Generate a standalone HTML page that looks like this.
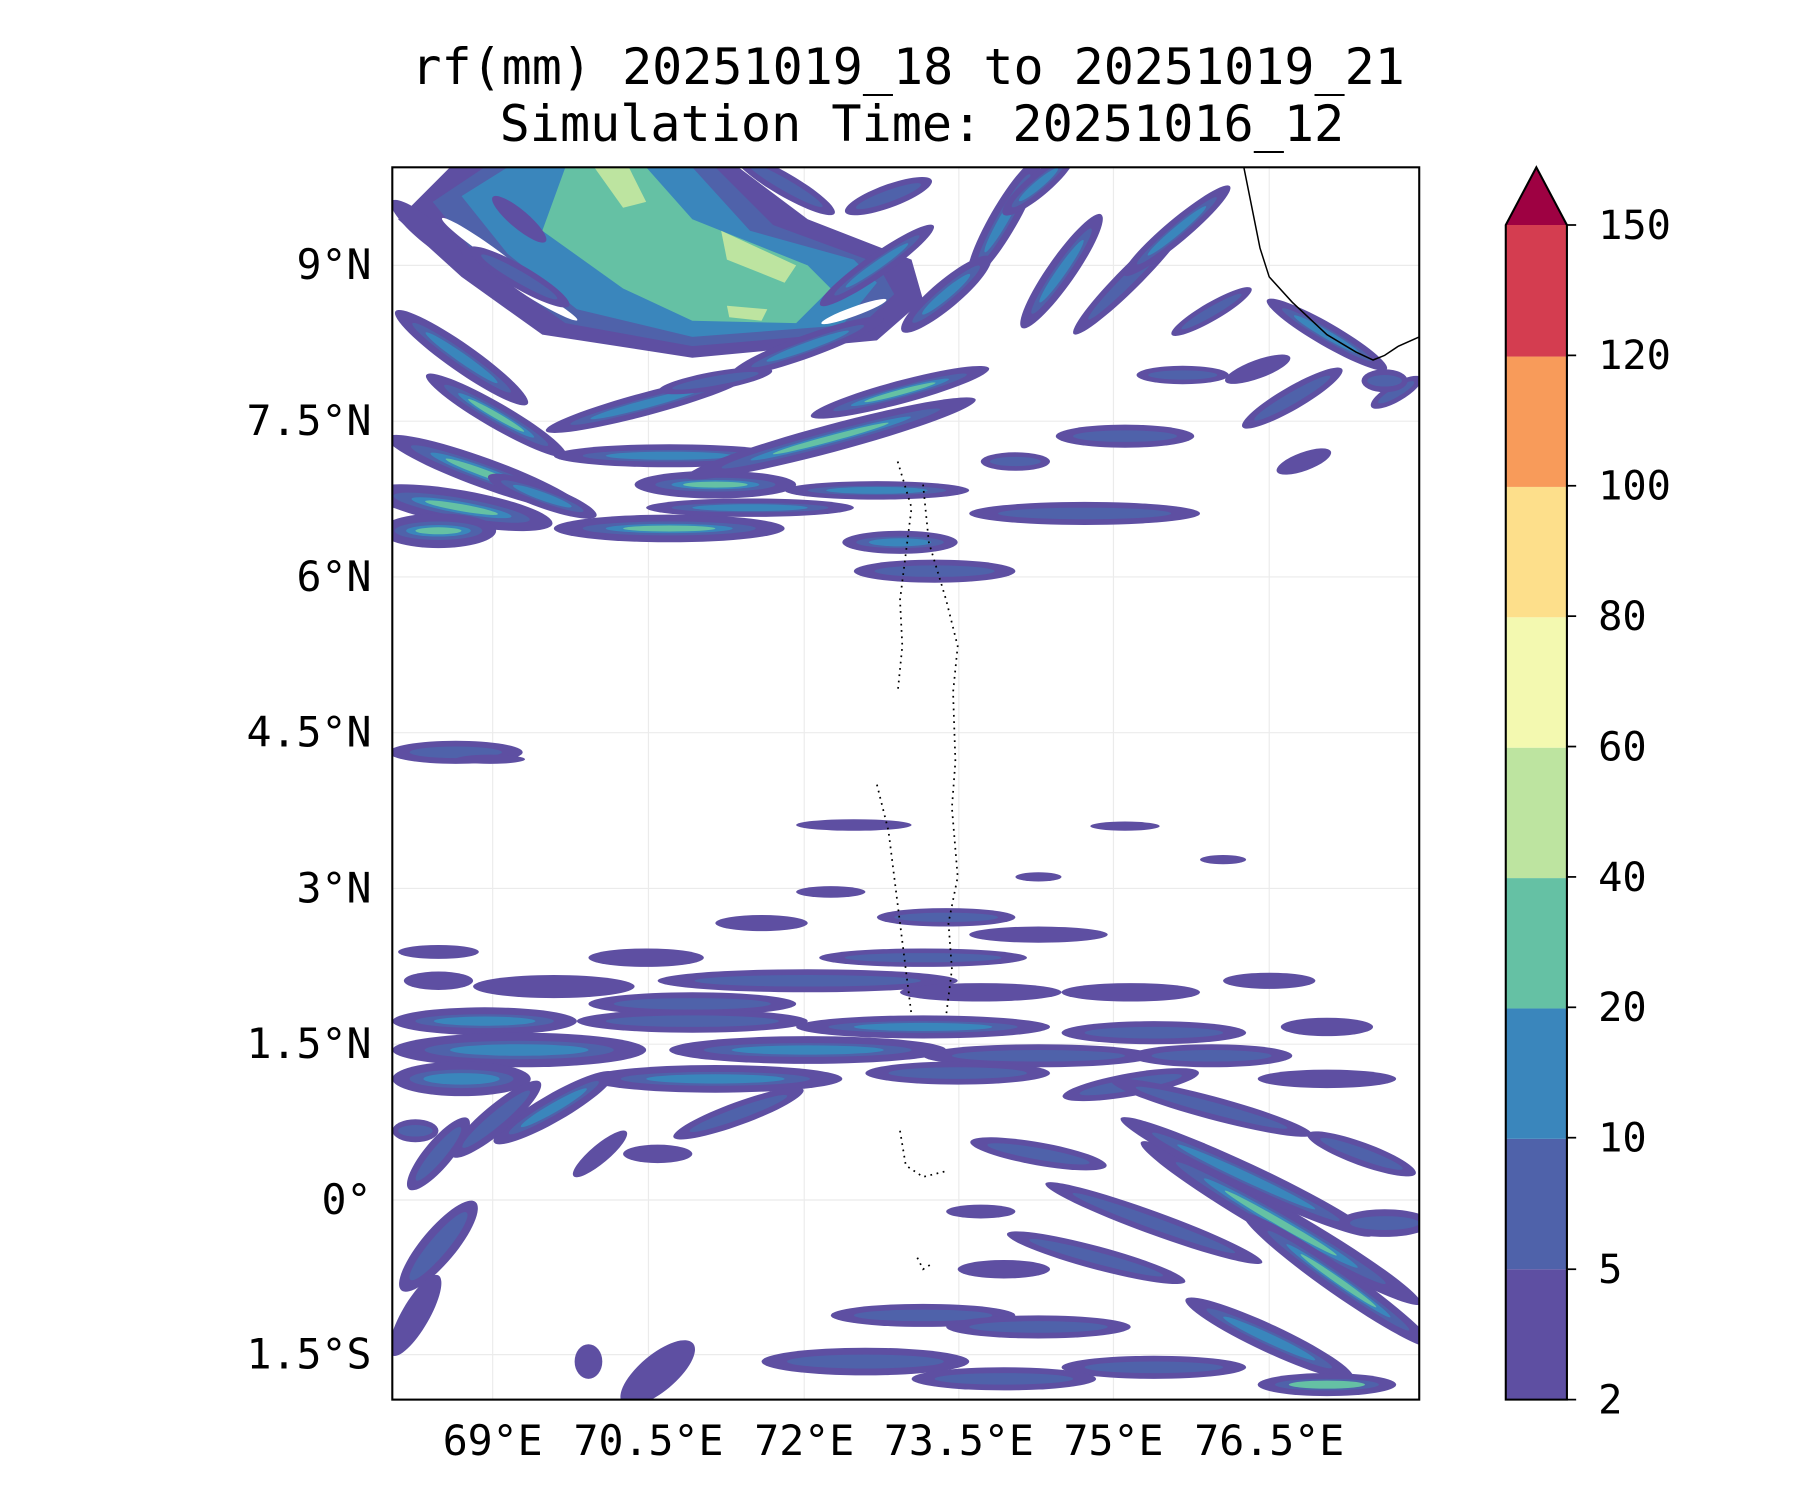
<!DOCTYPE html>
<html><head><meta charset="utf-8"><style>html,body{margin:0;padding:0;background:#fff}svg{display:block}</style></head>
<body>
<svg width="1800" height="1500" viewBox="0 0 1560 1300" xmlns="http://www.w3.org/2000/svg" font-family="'DejaVu Sans Mono','Liberation Mono',monospace">
<defs><clipPath id="c"><rect x="340" y="145" width="890" height="1068"/></clipPath></defs>
<rect width="1560" height="1300" fill="#fff"/>
<text x="787" y="73" font-size="43" text-anchor="middle" textLength="861" lengthAdjust="spacingAndGlyphs">rf(mm) 20251019_18 to 20251019_21</text>
<text x="799" y="122" font-size="43" text-anchor="middle" textLength="732" lengthAdjust="spacingAndGlyphs">Simulation Time: 20251016_12</text>
<g stroke="#ebebeb" stroke-width="1">
<line x1="427" y1="145" x2="427" y2="1213"/><line x1="562" y1="145" x2="562" y2="1213"/><line x1="697" y1="145" x2="697" y2="1213"/><line x1="831" y1="145" x2="831" y2="1213"/><line x1="965" y1="145" x2="965" y2="1213"/><line x1="1100" y1="145" x2="1100" y2="1213"/>
<line x1="340" y1="230" x2="1230" y2="230"/><line x1="340" y1="365" x2="1230" y2="365"/><line x1="340" y1="500" x2="1230" y2="500"/><line x1="340" y1="635" x2="1230" y2="635"/><line x1="340" y1="770" x2="1230" y2="770"/><line x1="340" y1="905" x2="1230" y2="905"/><line x1="340" y1="1040" x2="1230" y2="1040"/><line x1="340" y1="1174" x2="1230" y2="1174"/>
</g>
<g clip-path="url(#c)">
<polygon fill="#5e4fa2" points="390,145 640,145 700,190 790,225 800,260 760,295 600,310 470,290 400,240 345,190"/>
<polygon fill="#4f62aa" points="420,145 620,145 670,195 760,228 775,255 740,288 600,300 490,280 420,230 375,175"/>
<polygon fill="#3a86bc" points="440,145 600,145 650,200 740,225 760,245 730,282 600,292 500,268 440,220 400,170"/>
<polygon fill="#65c1a4" points="490,145 560,145 600,190 700,230 720,250 690,280 600,278 540,250 470,200"/>
<polygon fill="#bde4a0" points="625,200 690,230 680,245 630,225"/>
<polygon fill="#bde4a0" points="515,145 545,145 560,175 540,180"/>
<polygon fill="#bde4a0" points="630,265 665,268 660,278 632,275"/>
<g fill="#fff">
<g transform="translate(420,215) rotate(35)"><ellipse rx="45" ry="5"/></g>
<g transform="translate(470,260) rotate(30)"><ellipse rx="35" ry="4"/></g>
<g transform="translate(700,165) rotate(30)"><ellipse rx="30" ry="5"/></g>
<g transform="translate(740,270) rotate(-20)"><ellipse rx="30" ry="4"/></g>
</g>
<g>
<g transform="translate(370,200) rotate(40)"><ellipse rx="40" ry="10" fill="#5e4fa2"/></g>
<g transform="translate(450,240) rotate(30)"><ellipse rx="50" ry="10" fill="#5e4fa2"/><ellipse rx="38" ry="5" fill="#4f62aa"/></g>
<g transform="translate(400,310) rotate(35)"><ellipse rx="70" ry="12" fill="#5e4fa2"/><ellipse rx="52" ry="6" fill="#4f62aa"/><ellipse rx="38" ry="4" fill="#3a86bc"/></g>
<g transform="translate(430,360) rotate(30)"><ellipse rx="70" ry="11" fill="#5e4fa2"/><ellipse rx="52" ry="6" fill="#4f62aa"/><ellipse rx="38" ry="4" fill="#3a86bc"/><ellipse rx="28" ry="2.5" fill="#65c1a4"/></g>
<g transform="translate(420,410) rotate(20)"><ellipse rx="90" ry="13" fill="#5e4fa2"/><ellipse rx="68" ry="7" fill="#4f62aa"/><ellipse rx="50" ry="5" fill="#3a86bc"/><ellipse rx="36" ry="3" fill="#65c1a4"/></g>
<g transform="translate(400,440) rotate(10)"><ellipse rx="80" ry="15" fill="#5e4fa2"/><ellipse rx="60" ry="8" fill="#4f62aa"/><ellipse rx="44" ry="5" fill="#3a86bc"/><ellipse rx="32" ry="3" fill="#65c1a4"/></g>
<g transform="translate(380,460)"><ellipse rx="50" ry="15" fill="#5e4fa2"/><ellipse rx="38" ry="8" fill="#4f62aa"/><ellipse rx="28" ry="5" fill="#3a86bc"/><ellipse rx="20" ry="3" fill="#65c1a4"/></g>
<g transform="translate(470,430) rotate(20)"><ellipse rx="50" ry="10" fill="#5e4fa2"/><ellipse rx="38" ry="5" fill="#4f62aa"/><ellipse rx="27" ry="3.5" fill="#3a86bc"/></g>
<g transform="translate(560,350) rotate(-15)"><ellipse rx="90" ry="10" fill="#5e4fa2"/><ellipse rx="68" ry="5" fill="#4f62aa"/><ellipse rx="50" ry="3.5" fill="#3a86bc"/></g>
<g transform="translate(580,395)"><ellipse rx="100" ry="10" fill="#5e4fa2"/><ellipse rx="75" ry="5" fill="#4f62aa"/><ellipse rx="55" ry="3.5" fill="#3a86bc"/></g>
<g transform="translate(620,420)"><ellipse rx="70" ry="12" fill="#5e4fa2"/><ellipse rx="52" ry="6" fill="#4f62aa"/><ellipse rx="38" ry="4" fill="#3a86bc"/><ellipse rx="28" ry="2.6" fill="#65c1a4"/></g>
<g transform="translate(580,458)"><ellipse rx="100" ry="12" fill="#5e4fa2"/><ellipse rx="75" ry="6" fill="#4f62aa"/><ellipse rx="55" ry="4" fill="#3a86bc"/><ellipse rx="40" ry="2.6" fill="#65c1a4"/></g>
<g transform="translate(650,440)"><ellipse rx="90" ry="8" fill="#5e4fa2"/><ellipse rx="68" ry="4" fill="#4f62aa"/><ellipse rx="50" ry="3" fill="#3a86bc"/></g>
<g transform="translate(720,380) rotate(-15)"><ellipse rx="130" ry="12" fill="#5e4fa2"/><ellipse rx="98" ry="6" fill="#4f62aa"/><ellipse rx="72" ry="4" fill="#3a86bc"/><ellipse rx="52" ry="2.6" fill="#65c1a4"/></g>
<g transform="translate(780,340) rotate(-15)"><ellipse rx="80" ry="10" fill="#5e4fa2"/><ellipse rx="60" ry="5" fill="#4f62aa"/><ellipse rx="44" ry="3.5" fill="#3a86bc"/><ellipse rx="32" ry="2.2" fill="#65c1a4"/></g>
<g transform="translate(760,425)"><ellipse rx="80" ry="8" fill="#5e4fa2"/><ellipse rx="60" ry="4" fill="#4f62aa"/><ellipse rx="44" ry="3" fill="#3a86bc"/></g>
<g transform="translate(780,470)"><ellipse rx="50" ry="10" fill="#5e4fa2"/><ellipse rx="38" ry="5" fill="#4f62aa"/><ellipse rx="27" ry="3.5" fill="#3a86bc"/></g>
<g transform="translate(810,495)"><ellipse rx="70" ry="10" fill="#5e4fa2"/><ellipse rx="52" ry="5" fill="#4f62aa"/></g>
<g transform="translate(880,400)"><ellipse rx="30" ry="8" fill="#5e4fa2"/><ellipse rx="22" ry="4" fill="#4f62aa"/></g>
<g transform="translate(940,445)"><ellipse rx="100" ry="10" fill="#5e4fa2"/><ellipse rx="75" ry="5" fill="#4f62aa"/></g>
<g transform="translate(975,378)"><ellipse rx="60" ry="10" fill="#5e4fa2"/><ellipse rx="45" ry="5" fill="#4f62aa"/></g>
<g transform="translate(1025,325)"><ellipse rx="40" ry="8" fill="#5e4fa2"/><ellipse rx="30" ry="4" fill="#4f62aa"/></g>
<g transform="translate(1120,345) rotate(-30)"><ellipse rx="50" ry="10" fill="#5e4fa2"/><ellipse rx="38" ry="5" fill="#4f62aa"/></g>
<g transform="translate(1210,340) rotate(-30)"><ellipse rx="25" ry="8" fill="#5e4fa2"/><ellipse rx="18" ry="4" fill="#4f62aa"/></g>
<g transform="translate(1130,400) rotate(-20)"><ellipse rx="25" ry="8" fill="#5e4fa2"/></g>
<g transform="translate(700,300) rotate(-20)"><ellipse rx="70" ry="10" fill="#5e4fa2"/><ellipse rx="52" ry="5" fill="#4f62aa"/><ellipse rx="38" ry="3.5" fill="#3a86bc"/></g>
<g transform="translate(620,330) rotate(-10)"><ellipse rx="50" ry="8" fill="#5e4fa2"/><ellipse rx="38" ry="4" fill="#4f62aa"/></g>
<g transform="translate(870,190) rotate(-60)"><ellipse rx="60" ry="12" fill="#5e4fa2"/><ellipse rx="45" ry="6" fill="#4f62aa"/><ellipse rx="33" ry="4" fill="#3a86bc"/></g>
<g transform="translate(920,235) rotate(-55)"><ellipse rx="60" ry="12" fill="#5e4fa2"/><ellipse rx="45" ry="6" fill="#4f62aa"/><ellipse rx="33" ry="4" fill="#3a86bc"/></g>
<g transform="translate(980,240) rotate(-45)"><ellipse rx="70" ry="10" fill="#5e4fa2"/><ellipse rx="52" ry="5" fill="#4f62aa"/></g>
<g transform="translate(1020,200) rotate(-40)"><ellipse rx="60" ry="10" fill="#5e4fa2"/><ellipse rx="45" ry="5" fill="#4f62aa"/><ellipse rx="33" ry="3.5" fill="#3a86bc"/></g>
<g transform="translate(1050,270) rotate(-30)"><ellipse rx="40" ry="8" fill="#5e4fa2"/><ellipse rx="30" ry="4" fill="#4f62aa"/></g>
<g transform="translate(760,230) rotate(-35)"><ellipse rx="60" ry="10" fill="#5e4fa2"/><ellipse rx="45" ry="5" fill="#4f62aa"/><ellipse rx="33" ry="3.5" fill="#3a86bc"/></g>
<g transform="translate(820,255) rotate(-40)"><ellipse rx="50" ry="12" fill="#5e4fa2"/><ellipse rx="38" ry="6" fill="#4f62aa"/><ellipse rx="27" ry="4" fill="#3a86bc"/></g>
<g transform="translate(900,160) rotate(-40)"><ellipse rx="40" ry="10" fill="#5e4fa2"/><ellipse rx="30" ry="5" fill="#4f62aa"/><ellipse rx="22" ry="3.5" fill="#3a86bc"/></g>
<g transform="translate(680,160) rotate(30)"><ellipse rx="50" ry="10" fill="#5e4fa2"/><ellipse rx="38" ry="5" fill="#4f62aa"/></g>
<g transform="translate(770,170) rotate(-20)"><ellipse rx="40" ry="10" fill="#5e4fa2"/><ellipse rx="30" ry="5" fill="#4f62aa"/></g>
<g transform="translate(450,190) rotate(40)"><ellipse rx="30" ry="8" fill="#5e4fa2"/></g>
<g transform="translate(1150,290) rotate(30)"><ellipse rx="60" ry="10" fill="#5e4fa2"/><ellipse rx="45" ry="5" fill="#4f62aa"/><ellipse rx="33" ry="3.5" fill="#3a86bc"/></g>
<g transform="translate(1200,330)"><ellipse rx="20" ry="10" fill="#5e4fa2"/><ellipse rx="15" ry="5" fill="#4f62aa"/></g>
<g transform="translate(1090,320) rotate(-20)"><ellipse rx="30" ry="8" fill="#5e4fa2"/></g>
<g transform="translate(395,652)"><ellipse rx="58" ry="10" fill="#5e4fa2"/><ellipse rx="40" ry="5" fill="#4f62aa"/></g>
<g transform="translate(425,658)"><ellipse rx="30" ry="4" fill="#5e4fa2"/></g>

<g transform="translate(740,715)"><ellipse rx="50" ry="5" fill="#5e4fa2"/></g>
<g transform="translate(975,716)"><ellipse rx="30" ry="4" fill="#5e4fa2"/></g>
<g transform="translate(1060,745)"><ellipse rx="20" ry="4" fill="#5e4fa2"/></g>
<g transform="translate(720,773)"><ellipse rx="30" ry="5" fill="#5e4fa2"/></g>
<g transform="translate(900,760)"><ellipse rx="20" ry="4" fill="#5e4fa2"/></g>
<g transform="translate(820,795)"><ellipse rx="60" ry="8" fill="#5e4fa2"/><ellipse rx="45" ry="4" fill="#4f62aa"/></g>
<g transform="translate(900,810)"><ellipse rx="60" ry="7" fill="#5e4fa2"/></g>
<g transform="translate(800,830)"><ellipse rx="90" ry="8" fill="#5e4fa2"/><ellipse rx="68" ry="4" fill="#4f62aa"/></g>
<g transform="translate(660,800)"><ellipse rx="40" ry="7" fill="#5e4fa2"/></g>
<g transform="translate(560,830)"><ellipse rx="50" ry="8" fill="#5e4fa2"/></g>
<g transform="translate(380,825)"><ellipse rx="35" ry="6" fill="#5e4fa2"/></g>
<g transform="translate(700,850)"><ellipse rx="130" ry="10" fill="#5e4fa2"/><ellipse rx="98" ry="5" fill="#4f62aa"/></g>
<g transform="translate(480,855)"><ellipse rx="70" ry="10" fill="#5e4fa2"/></g>
<g transform="translate(380,850)"><ellipse rx="30" ry="8" fill="#5e4fa2"/></g>
<g transform="translate(600,870)"><ellipse rx="90" ry="10" fill="#5e4fa2"/><ellipse rx="68" ry="5" fill="#4f62aa"/></g>
<g transform="translate(850,860)"><ellipse rx="70" ry="8" fill="#5e4fa2"/></g>
<g transform="translate(980,860)"><ellipse rx="60" ry="8" fill="#5e4fa2"/></g>
<g transform="translate(1100,850)"><ellipse rx="40" ry="7" fill="#5e4fa2"/></g>
<g transform="translate(420,885)"><ellipse rx="80" ry="12" fill="#5e4fa2"/><ellipse rx="60" ry="6" fill="#4f62aa"/><ellipse rx="44" ry="4" fill="#3a86bc"/></g>
<g transform="translate(600,885)"><ellipse rx="100" ry="10" fill="#5e4fa2"/><ellipse rx="75" ry="5" fill="#4f62aa"/></g>
<g transform="translate(800,890)"><ellipse rx="110" ry="10" fill="#5e4fa2"/><ellipse rx="82" ry="5" fill="#4f62aa"/><ellipse rx="60" ry="3.5" fill="#3a86bc"/></g>
<g transform="translate(1000,895)"><ellipse rx="80" ry="10" fill="#5e4fa2"/><ellipse rx="60" ry="5" fill="#4f62aa"/></g>
<g transform="translate(1150,890)"><ellipse rx="40" ry="8" fill="#5e4fa2"/></g>
<g transform="translate(450,910)"><ellipse rx="110" ry="15" fill="#5e4fa2"/><ellipse rx="82" ry="8" fill="#4f62aa"/><ellipse rx="60" ry="5" fill="#3a86bc"/></g>
<g transform="translate(700,910)"><ellipse rx="120" ry="12" fill="#5e4fa2"/><ellipse rx="90" ry="6" fill="#4f62aa"/><ellipse rx="66" ry="4" fill="#3a86bc"/></g>
<g transform="translate(900,915)"><ellipse rx="100" ry="10" fill="#5e4fa2"/><ellipse rx="75" ry="5" fill="#4f62aa"/></g>
<g transform="translate(1050,915)"><ellipse rx="70" ry="10" fill="#5e4fa2"/><ellipse rx="52" ry="5" fill="#4f62aa"/></g>
<g transform="translate(400,935)"><ellipse rx="60" ry="15" fill="#5e4fa2"/><ellipse rx="45" ry="8" fill="#4f62aa"/><ellipse rx="33" ry="5" fill="#3a86bc"/></g>
<g transform="translate(620,935)"><ellipse rx="110" ry="12" fill="#5e4fa2"/><ellipse rx="82" ry="6" fill="#4f62aa"/><ellipse rx="60" ry="4" fill="#3a86bc"/></g>
<g transform="translate(830,930)"><ellipse rx="80" ry="10" fill="#5e4fa2"/><ellipse rx="60" ry="5" fill="#4f62aa"/></g>
<g transform="translate(980,940) rotate(-10)"><ellipse rx="60" ry="10" fill="#5e4fa2"/><ellipse rx="45" ry="5" fill="#4f62aa"/></g>
<g transform="translate(480,960) rotate(-30)"><ellipse rx="60" ry="12" fill="#5e4fa2"/><ellipse rx="45" ry="6" fill="#4f62aa"/><ellipse rx="33" ry="4" fill="#3a86bc"/></g>
<g transform="translate(640,965) rotate(-20)"><ellipse rx="60" ry="10" fill="#5e4fa2"/><ellipse rx="45" ry="5" fill="#4f62aa"/></g>
<g transform="translate(1150,935)"><ellipse rx="60" ry="8" fill="#5e4fa2"/></g>
<g transform="translate(1110,1060) rotate(30)"><ellipse rx="140" ry="14" fill="#5e4fa2"/><ellipse rx="105" ry="7" fill="#4f62aa"/><ellipse rx="77" ry="5" fill="#3a86bc"/><ellipse rx="56" ry="3" fill="#65c1a4"/></g>
<g transform="translate(1080,1020) rotate(25)"><ellipse rx="120" ry="12" fill="#5e4fa2"/><ellipse rx="90" ry="6" fill="#4f62aa"/><ellipse rx="66" ry="4" fill="#3a86bc"/></g>
<g transform="translate(1160,1110) rotate(35)"><ellipse rx="100" ry="12" fill="#5e4fa2"/><ellipse rx="75" ry="6" fill="#4f62aa"/><ellipse rx="55" ry="4" fill="#3a86bc"/><ellipse rx="40" ry="2.6" fill="#65c1a4"/></g>
<g transform="translate(1000,1060) rotate(20)"><ellipse rx="100" ry="10" fill="#5e4fa2"/><ellipse rx="75" ry="5" fill="#4f62aa"/></g>
<g transform="translate(950,1090) rotate(15)"><ellipse rx="80" ry="10" fill="#5e4fa2"/><ellipse rx="60" ry="5" fill="#4f62aa"/></g>
<g transform="translate(1100,1160) rotate(25)"><ellipse rx="80" ry="12" fill="#5e4fa2"/><ellipse rx="60" ry="6" fill="#4f62aa"/><ellipse rx="44" ry="4" fill="#3a86bc"/></g>
<g transform="translate(1180,1000) rotate(20)"><ellipse rx="50" ry="10" fill="#5e4fa2"/><ellipse rx="38" ry="5" fill="#4f62aa"/></g>
<g transform="translate(1200,1060)"><ellipse rx="40" ry="12" fill="#5e4fa2"/><ellipse rx="30" ry="6" fill="#4f62aa"/></g>
<g transform="translate(900,1000) rotate(10)"><ellipse rx="60" ry="10" fill="#5e4fa2"/><ellipse rx="45" ry="5" fill="#4f62aa"/></g>
<g transform="translate(1050,960) rotate(15)"><ellipse rx="90" ry="10" fill="#5e4fa2"/><ellipse rx="68" ry="5" fill="#4f62aa"/></g>
<g transform="translate(800,1140)"><ellipse rx="80" ry="10" fill="#5e4fa2"/><ellipse rx="60" ry="5" fill="#4f62aa"/></g>
<g transform="translate(750,1180)"><ellipse rx="90" ry="12" fill="#5e4fa2"/><ellipse rx="68" ry="6" fill="#4f62aa"/></g>
<g transform="translate(900,1150)"><ellipse rx="80" ry="10" fill="#5e4fa2"/><ellipse rx="60" ry="5" fill="#4f62aa"/></g>
<g transform="translate(1000,1185)"><ellipse rx="80" ry="10" fill="#5e4fa2"/><ellipse rx="60" ry="5" fill="#4f62aa"/></g>
<g transform="translate(870,1195)"><ellipse rx="80" ry="10" fill="#5e4fa2"/><ellipse rx="60" ry="5" fill="#4f62aa"/></g>
<g transform="translate(1150,1200)"><ellipse rx="60" ry="10" fill="#5e4fa2"/><ellipse rx="45" ry="5" fill="#4f62aa"/><ellipse rx="33" ry="3.5" fill="#65c1a4"/></g>
<g transform="translate(570,1190) rotate(-40)"><ellipse rx="40" ry="16" fill="#5e4fa2"/></g>
<g transform="translate(510,1180)"><ellipse rx="12" ry="15" fill="#5e4fa2"/></g>
<g transform="translate(870,1100)"><ellipse rx="40" ry="8" fill="#5e4fa2"/></g>
<g transform="translate(850,1050)"><ellipse rx="30" ry="6" fill="#5e4fa2"/></g>
<g transform="translate(380,1080) rotate(-50)"><ellipse rx="50" ry="15" fill="#5e4fa2"/><ellipse rx="38" ry="8" fill="#4f62aa"/></g>
<g transform="translate(360,1140) rotate(-60)"><ellipse rx="40" ry="12" fill="#5e4fa2"/></g>
<g transform="translate(430,970) rotate(-40)"><ellipse rx="50" ry="12" fill="#5e4fa2"/><ellipse rx="38" ry="6" fill="#4f62aa"/></g>
<g transform="translate(380,1000) rotate(-50)"><ellipse rx="40" ry="12" fill="#5e4fa2"/><ellipse rx="30" ry="6" fill="#4f62aa"/></g>
<g transform="translate(520,1000) rotate(-40)"><ellipse rx="30" ry="8" fill="#5e4fa2"/></g>
<g transform="translate(360,980)"><ellipse rx="20" ry="10" fill="#5e4fa2"/><ellipse rx="15" ry="5" fill="#4f62aa"/></g>
<g transform="translate(570,1000)"><ellipse rx="30" ry="8" fill="#5e4fa2"/></g>
</g>
<path d="M1078,145 L1085,180 L1092,215 L1100,240 L1120,262 L1150,290 L1175,305 L1190,312 L1200,308 L1212,300 L1230,292" fill="none" stroke="#000" stroke-width="1.3"/>
<path d="M778,400 L790,440 L785,480 L780,520 L782,560 L778,600 M800,420 L805,470 L820,520 L830,560 L826,600 L828,660 L825,700 L830,760 L822,800 L825,840 L820,880 M760,680 L770,720 L775,760 L780,800 L785,840 L790,880 M780,980 L785,1010 L800,1020 L820,1015 M795,1090 L800,1100 L808,1095" fill="none" stroke="#000" stroke-width="1.5" stroke-dasharray="1.5,4"/>
</g>
<rect x="340" y="145" width="890" height="1068" fill="none" stroke="#000" stroke-width="1.8"/>
<g font-size="36" text-anchor="end">
<text x="322" y="242">9°N</text><text x="322" y="377">7.5°N</text><text x="322" y="512">6°N</text><text x="322" y="647">4.5°N</text><text x="322" y="782">3°N</text><text x="322" y="917">1.5°N</text><text x="322" y="1052">0°</text><text x="322" y="1186">1.5°S</text>
</g>
<g font-size="36" text-anchor="middle">
<text x="427" y="1261">69°E</text><text x="562" y="1261">70.5°E</text><text x="697" y="1261">72°E</text><text x="831" y="1261">73.5°E</text><text x="965" y="1261">75°E</text><text x="1100" y="1261">76.5°E</text>
</g>
<g>
<rect x="1305" y="1100" width="53" height="113" fill="#5e4fa2"/>
<rect x="1305" y="987" width="53" height="113" fill="#4f62aa"/>
<rect x="1305" y="874" width="53" height="113" fill="#3a86bc"/>
<rect x="1305" y="761" width="53" height="113" fill="#65c1a4"/>
<rect x="1305" y="648" width="53" height="113" fill="#bde4a0"/>
<rect x="1305" y="535" width="53" height="113" fill="#f3f9b0"/>
<rect x="1305" y="422" width="53" height="113" fill="#fddf8b"/>
<rect x="1305" y="309" width="53" height="113" fill="#f89b5a"/>
<rect x="1305" y="195" width="53" height="114" fill="#d43d50"/>
<polygon points="1305,195 1331.5,145 1358,195" fill="#9e0142"/>
<path d="M1305,1213 L1305,195 L1331.5,145 L1358,195 L1358,1213 Z" fill="none" stroke="#000" stroke-width="1.8"/>
<g stroke="#000" stroke-width="1.5">
<line x1="1358" y1="195" x2="1366" y2="195"/><line x1="1358" y1="308" x2="1366" y2="308"/><line x1="1358" y1="421" x2="1366" y2="421"/><line x1="1358" y1="534" x2="1366" y2="534"/><line x1="1358" y1="647" x2="1366" y2="647"/><line x1="1358" y1="760" x2="1366" y2="760"/><line x1="1358" y1="873" x2="1366" y2="873"/><line x1="1358" y1="986" x2="1366" y2="986"/><line x1="1358" y1="1100" x2="1366" y2="1100"/><line x1="1358" y1="1213" x2="1366" y2="1213"/>
</g>
<g font-size="35">
<text x="1385" y="207">150</text><text x="1385" y="320">120</text><text x="1385" y="433">100</text><text x="1385" y="546">80</text><text x="1385" y="659">60</text><text x="1385" y="772">40</text><text x="1385" y="885">20</text><text x="1385" y="998">10</text><text x="1385" y="1112">5</text><text x="1385" y="1225">2</text>
</g>
</g>
</svg>
</body></html>
